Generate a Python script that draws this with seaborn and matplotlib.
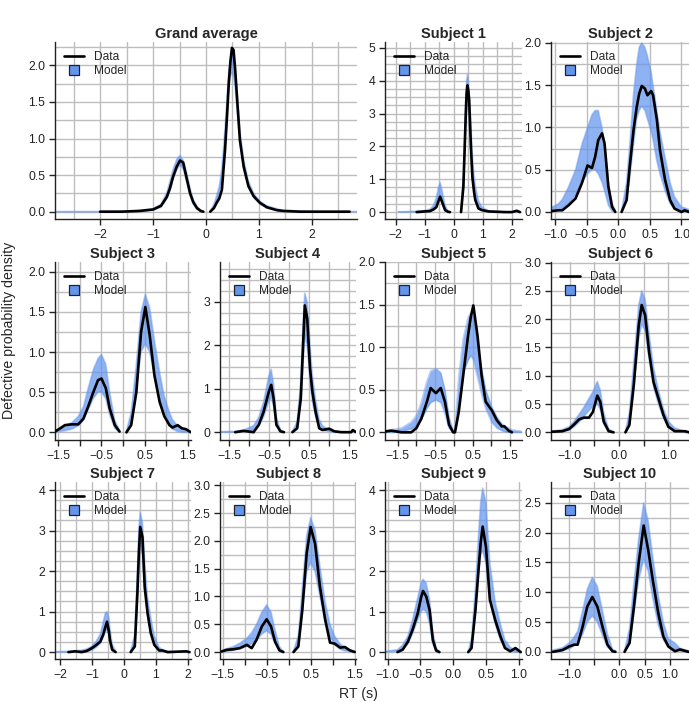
import numpy as np
import matplotlib
matplotlib.use('Agg')
import matplotlib.pyplot as plt
from matplotlib.lines import Line2D
from matplotlib.legend_handler import HandlerLine2D
from matplotlib.ticker import MultipleLocator
import seaborn as sns

# Densities.
# x = RT sample points (s), data = observed density (None = not drawn),
# lo / hi = envelope of the model posterior-predictive traces.

ga_x = [-2.85, -2.0, -1.6, -1.25, -1.0, -0.85, -0.74, -0.68, -0.62, -0.55, -0.49, -0.43, -0.36, -0.3, -0.24,
        -0.17, -0.1, -0.05, 0.0, 0.08, 0.15, 0.2, 0.25, 0.3, 0.36, 0.4, 0.43, 0.46, 0.49, 0.52, 0.55, 0.58,
        0.64, 0.71, 0.8, 0.9, 1.02, 1.15, 1.34, 1.46, 1.78, 2.2, 2.71, 2.85]
ga_data = [None, 0.0, 0.0, 0.01, 0.03, 0.08, 0.2, 0.32, 0.48, 0.62, 0.70, 0.67, 0.44, 0.25, 0.13,
           0.05, 0.01, 0.0, None, 0.0, 0.05, 0.12, 0.18, 0.30, 0.85, 1.35, 1.76, 2.05, 2.24, 2.21, 1.95, 1.62,
           0.98, 0.62, 0.35, 0.21, 0.12, 0.06, 0.02, 0.01, 0.0, 0.0, 0.0, None]
ga_lo = [0.0, 0.0, 0.0, 0.01, 0.02, 0.06, 0.18, 0.30, 0.45, 0.58, 0.64, 0.58, 0.40, 0.22, 0.10,
         0.03, 0.005, 0.0, None, 0.0, 0.05, 0.14, 0.25, 0.45, 0.95, 1.4, 1.7, 1.85, 1.9, 1.85, 1.7, 1.45,
         0.95, 0.6, 0.34, 0.2, 0.1, 0.05, 0.02, 0.01, 0.0, 0.0, 0.0, 0.0]
ga_hi = [0.0, 0.0, 0.005, 0.02, 0.04, 0.10, 0.26, 0.42, 0.58, 0.72, 0.77, 0.70, 0.52, 0.32, 0.16,
         0.07, 0.02, 0.005, None, 0.01, 0.10, 0.22, 0.35, 0.6, 1.15, 1.6, 1.9, 2.05, 2.15, 2.1, 1.95, 1.7,
         1.1, 0.72, 0.42, 0.25, 0.14, 0.08, 0.04, 0.02, 0.01, 0.0, 0.0, 0.0]

s1_x = [-2.37, -1.9, -1.5, -1.28, -1.0, -0.82, -0.7, -0.6, -0.53, -0.47, -0.4, -0.3, -0.2, -0.13, 0.05,
        0.25, 0.33, 0.37, 0.41, 0.44, 0.47, 0.5, 0.53, 0.59, 0.64, 0.7, 0.74, 0.85, 0.97, 1.2, 1.77, 2.0,
        2.17, 2.28, 2.35]
s1_data = [None, None, None, 0.0, 0.02, 0.03, 0.08, 0.15, 0.33, 0.47, 0.3, 0.06, 0.01, 0.0, None,
           0.0, 0.77, 1.8, 2.9, 3.6, 3.86, 3.7, 3.4, 2.0, 1.07, 0.6, 0.37, 0.11, 0.06, 0.02, 0.0, 0.0,
           0.04, 0.0, None]
s1_lo = [None, 0.0, 0.0, 0.01, 0.02, 0.04, 0.1, 0.25, 0.45, 0.5, 0.35, 0.08, 0.01, 0.0, None,
         0.0, 0.7, 1.6, 2.6, 3.2, 3.4, 3.2, 2.8, 1.8, 1.1, 0.6, 0.4, 0.12, 0.05, 0.01, 0.0, 0.0,
         0.0, 0.0, None]
s1_hi = [None, 0.01, 0.02, 0.03, 0.05, 0.09, 0.2, 0.45, 0.75, 0.9, 0.65, 0.2, 0.04, 0.01, None,
         0.05, 1.1, 2.2, 3.4, 4.0, 4.2, 4.0, 3.6, 2.6, 1.7, 1.1, 0.8, 0.35, 0.15, 0.04, 0.01, 0.005,
         0.0, 0.0, None]

s2_x = [-1.07, -0.95, -0.89, -0.79, -0.68, -0.58, -0.49, -0.42, -0.37, -0.32, -0.26, -0.22, -0.16, -0.1,
        -0.05, 0.0, 0.05, 0.13, 0.18, 0.24, 0.29, 0.33, 0.37, 0.42, 0.46, 0.52, 0.55, 0.61, 0.66, 0.74,
        0.82, 0.89, 1.0, 1.05, 1.12]
s2_data = [0.01, 0.02, 0.02, 0.08, 0.16, 0.34, 0.55, 0.52, 0.65, 0.85, 0.93, 0.81, 0.30, 0.06,
           0.0, None, 0.0, 0.14, 0.54, 0.97, 1.24, 1.40, 1.49, 1.46, 1.38, 1.43, 1.38, 1.09, 0.73, 0.38,
           0.14, 0.04, 0.0, 0.02, 0.0]
s2_lo = [0.0, 0.02, 0.04, 0.1, 0.2, 0.35, 0.45, 0.5, 0.5, 0.45, 0.35, 0.25, 0.08, 0.01,
         0.0, None, 0.0, 0.15, 0.4, 0.8, 1.1, 1.2, 1.25, 1.2, 1.1, 0.95, 0.85, 0.6, 0.45, 0.25,
         0.1, 0.04, 0.01, 0.0, 0.0]
s2_hi = [0.05, 0.1, 0.15, 0.3, 0.5, 0.8, 1.0, 1.15, 1.2, 1.2, 1.0, 0.8, 0.35, 0.1,
         0.02, None, 0.02, 0.35, 0.8, 1.4, 1.75, 1.95, 2.0, 1.95, 1.85, 1.65, 1.5, 1.2, 0.95, 0.65,
         0.35, 0.18, 0.06, 0.05, 0.03]

s3_x = [-1.58, -1.46, -1.35, -1.19, -1.04, -0.92, -0.81, -0.69, -0.58, -0.5, -0.4, -0.31, -0.19, -0.08, 0.0,
        0.08, 0.19, 0.31, 0.42, 0.52, 0.62, 0.73, 0.85, 0.96, 1.08, 1.15, 1.27, 1.37, 1.46, 1.58]
s3_data = [0.01, 0.05, 0.09, 0.10, 0.10, 0.17, 0.32, 0.50, 0.65, 0.67, 0.55, 0.30, 0.09, 0.01, None,
           0.0, 0.09, 0.50, 1.25, 1.56, 1.21, 0.71, 0.38, 0.20, 0.09, 0.06, 0.09, 0.05, 0.04, 0.0]
s3_lo = [0.0, 0.01, 0.02, 0.04, 0.08, 0.15, 0.28, 0.42, 0.5, 0.5, 0.42, 0.22, 0.05, 0.0, None,
         0.0, 0.1, 0.55, 1.0, 1.1, 1.0, 0.7, 0.4, 0.2, 0.08, 0.04, 0.01, 0.0, 0.0, 0.0]
s3_hi = [0.02, 0.04, 0.08, 0.12, 0.2, 0.32, 0.55, 0.78, 0.92, 0.97, 0.85, 0.5, 0.15, 0.02, None,
         0.02, 0.25, 0.85, 1.5, 1.72, 1.55, 1.15, 0.75, 0.45, 0.25, 0.16, 0.08, 0.05, 0.03, 0.01]

s4_x = [-1.73, -1.35, -1.14, -0.89, -0.76, -0.64, -0.51, -0.45, -0.39, -0.32, -0.22, -0.13, 0.0,
        0.08, 0.2, 0.29, 0.34, 0.39, 0.45, 0.52, 0.58, 0.66, 0.75, 0.83, 1.0, 1.13, 1.3, 1.55, 1.59, 1.67]
s4_data = [None, 0.0, 0.03, 0.0, 0.17, 0.47, 0.93, 1.09, 0.78, 0.17, 0.02, 0.0, None,
           0.0, 0.09, 0.78, 1.85, 2.92, 2.62, 1.47, 0.93, 0.47, 0.09, 0.05, 0.08, 0.02, 0.0, 0.0, 0.05, 0.0]
s4_lo = [0.0, 0.0, 0.01, 0.05, 0.15, 0.35, 0.7, 0.8, 0.6, 0.15, 0.01, 0.0, None,
         0.0, 0.1, 0.7, 1.5, 2.2, 2.0, 1.2, 0.7, 0.35, 0.12, 0.05, 0.01, 0.0, 0.0, 0.0, 0.0, 0.0]
s4_hi = [0.01, 0.02, 0.05, 0.15, 0.35, 0.7, 1.3, 1.45, 1.1, 0.35, 0.05, 0.01, None,
         0.02, 0.25, 1.2, 2.4, 3.2, 3.0, 2.0, 1.3, 0.75, 0.3, 0.15, 0.05, 0.02, 0.01, 0.0, 0.0, 0.0]

s5_x = [-1.84, -1.67, -1.4, -1.14, -1.0, -0.87, -0.72, -0.62, -0.48, -0.35, -0.24, -0.13, -0.02,
        0.03, 0.13, 0.25, 0.38, 0.45, 0.52, 0.63, 0.74, 0.85, 1.01, 1.15, 1.28, 1.35, 1.46, 1.55, 1.82]
s5_data = [0.01, 0.02, 0.0, 0.0, 0.05, 0.16, 0.36, 0.52, 0.46, 0.52, 0.36, 0.09, 0.0,
           0.0, 0.24, 0.67, 1.14, 1.35, 1.49, 1.14, 0.67, 0.36, 0.26, 0.14, 0.07, 0.07, 0.02, 0.0, None]
s5_lo = [0.0, 0.0, 0.01, 0.04, 0.08, 0.15, 0.28, 0.35, 0.38, 0.35, 0.22, 0.05, 0.0,
         0.0, 0.35, 0.7, 0.85, 0.9, 0.85, 0.65, 0.45, 0.28, 0.12, 0.05, 0.02, 0.01, 0.0, 0.0, 0.0]
s5_hi = [0.02, 0.03, 0.05, 0.12, 0.2, 0.35, 0.6, 0.72, 0.75, 0.7, 0.5, 0.18, 0.02,
         0.02, 0.65, 1.1, 1.35, 1.4, 1.35, 1.05, 0.75, 0.5, 0.3, 0.18, 0.1, 0.08, 0.05, 0.03, 0.01]

s6_x = [-1.38, -1.15, -1.01, -0.91, -0.81, -0.71, -0.61, -0.53, -0.44, -0.38, -0.31, -0.21, -0.11, 0.0,
        0.13, 0.21, 0.3, 0.4, 0.46, 0.53, 0.61, 0.7, 0.8, 0.9, 1.0, 1.13, 1.34, 1.42]
s6_data = [0.01, 0.02, 0.06, 0.14, 0.23, 0.26, 0.26, 0.36, 0.65, 0.54, 0.19, 0.02, 0.0, None,
           0.0, 0.13, 0.84, 1.89, 2.25, 2.07, 1.42, 0.89, 0.6, 0.31, 0.1, 0.02, 0.02, 0.0]
s6_lo = [0.0, 0.01, 0.04, 0.1, 0.18, 0.28, 0.38, 0.45, 0.5, 0.4, 0.15, 0.01, 0.0, None,
         0.0, 0.15, 0.8, 1.65, 1.9, 1.8, 1.3, 0.8, 0.5, 0.25, 0.1, 0.03, 0.0, 0.0]
s6_hi = [0.02, 0.05, 0.1, 0.2, 0.32, 0.45, 0.6, 0.72, 0.9, 0.75, 0.35, 0.06, 0.01, None,
         0.02, 0.35, 1.25, 2.25, 2.5, 2.35, 1.75, 1.15, 0.75, 0.42, 0.2, 0.08, 0.02, 0.01]

s7_x = [-2.16, -1.74, -1.53, -1.32, -1.16, -1.0, -0.86, -0.74, -0.65, -0.59, -0.53, -0.47, -0.44, -0.37,
        -0.26, 0.0, 0.21, 0.34, 0.42, 0.47, 0.51, 0.58, 0.65, 0.74, 0.84, 0.95, 1.1, 1.21, 1.37, 1.95,
        2.05, 2.1]
s7_data = [None, 0.0, 0.02, 0.0, 0.03, 0.1, 0.18, 0.26, 0.43, 0.6, 0.75, 0.5, 0.3, 0.06,
           0.0, None, 0.0, 0.14, 1.45, 2.5, 3.09, 2.84, 1.61, 0.96, 0.47, 0.18, 0.04, 0.04, 0.0, 0.02,
           0.0, None]
s7_lo = [0.0, 0.0, 0.0, 0.01, 0.02, 0.05, 0.12, 0.22, 0.38, 0.5, 0.55, 0.45, 0.3, 0.05,
         0.0, None, 0.0, 0.2, 1.3, 2.2, 2.6, 2.4, 1.5, 0.9, 0.5, 0.2, 0.05, 0.02, 0.0, 0.0,
         0.0, 0.0]
s7_hi = [0.01, 0.02, 0.03, 0.05, 0.08, 0.15, 0.28, 0.45, 0.75, 0.95, 1.0, 0.85, 0.6, 0.2,
         0.02, None, 0.02, 0.45, 2.0, 3.1, 3.45, 3.2, 2.2, 1.35, 0.85, 0.4, 0.12, 0.06, 0.02, 0.0,
         0.0, 0.0]

s8_x = [-1.56, -1.52, -1.41, -1.26, -1.11, -0.95, -0.84, -0.73, -0.61, -0.5, -0.4, -0.31, -0.21, -0.12, 0.0,
        0.11, 0.22, 0.31, 0.41, 0.5, 0.6, 0.71, 0.83, 0.94, 1.05, 1.17, 1.28, 1.39, 1.5, 1.53]
s8_data = [None, 0.01, 0.04, 0.05, 0.07, 0.13, 0.07, 0.22, 0.46, 0.59, 0.46, 0.19, 0.03, 0.0, None,
           0.0, 0.1, 0.76, 1.78, 2.25, 1.95, 1.18, 0.58, 0.17, 0.15, 0.08, 0.09, 0.03, 0.0, None]
s8_lo = [0.0, 0.0, 0.01, 0.03, 0.06, 0.1, 0.15, 0.22, 0.32, 0.38, 0.32, 0.15, 0.02, 0.0, None,
         0.0, 0.12, 0.7, 1.45, 1.6, 1.45, 1.0, 0.55, 0.28, 0.12, 0.05, 0.02, 0.01, 0.0, 0.0]
s8_hi = [0.02, 0.03, 0.06, 0.1, 0.16, 0.25, 0.35, 0.5, 0.72, 0.85, 0.72, 0.4, 0.1, 0.01, None,
         0.02, 0.3, 1.15, 2.1, 2.42, 2.2, 1.55, 0.9, 0.5, 0.28, 0.15, 0.08, 0.04, 0.02, 0.01]

s9_x = [-1.04, -0.85, -0.77, -0.69, -0.62, -0.54, -0.49, -0.46, -0.41, -0.36, -0.31, -0.26, -0.21, 0.0,
        0.23, 0.28, 0.34, 0.39, 0.42, 0.45, 0.5, 0.56, 0.64, 0.72, 0.79, 0.87, 0.95, 1.03, 1.05]
s9_data = [None, 0.0, 0.06, 0.26, 0.55, 0.96, 1.35, 1.51, 1.37, 1.04, 0.3, 0.04, 0.0, None,
           0.0, 0.1, 1.04, 2.1, 2.7, 3.1, 2.6, 1.29, 0.8, 0.39, 0.1, 0.02, 0.1, 0.0, None]
s9_lo = [0.0, 0.02, 0.08, 0.2, 0.45, 0.8, 1.0, 1.05, 1.0, 0.7, 0.2, 0.02, 0.0, None,
         0.0, 0.12, 1.0, 2.0, 2.4, 2.5, 2.2, 1.3, 0.7, 0.3, 0.1, 0.03, 0.0, 0.0, 0.0]
s9_hi = [0.02, 0.06, 0.18, 0.4, 0.8, 1.35, 1.7, 1.8, 1.7, 1.3, 0.5, 0.1, 0.02, None,
         0.02, 0.35, 1.6, 3.0, 3.7, 4.05, 3.7, 2.2, 1.25, 0.7, 0.3, 0.12, 0.05, 0.02, 0.0]

s10_x = [-1.36, -1.32, -1.13, -1.0, -0.9, -0.83, -0.73, -0.64, -0.54, -0.44, -0.34, -0.24, -0.14, -0.08, 0.0,
         0.1, 0.2, 0.28, 0.38, 0.48, 0.57, 0.66, 0.77, 0.87, 0.97, 1.1, 1.2, 1.37, 1.38]
s10_data = [None, 0.0, 0.03, 0.09, 0.12, 0.12, 0.43, 0.76, 0.92, 0.76, 0.43, 0.12, 0.01, 0.0, None,
            0.0, 0.15, 0.71, 1.49, 2.12, 1.71, 1.21, 0.65, 0.26, 0.09, 0.01, 0.04, 0.0, None]
s10_lo = [0.0, 0.0, 0.02, 0.05, 0.1, 0.15, 0.3, 0.5, 0.6, 0.5, 0.28, 0.08, 0.01, 0.0, None,
          0.0, 0.15, 0.6, 1.2, 1.55, 1.35, 0.9, 0.45, 0.2, 0.08, 0.02, 0.01, 0.0, 0.0]
s10_hi = [0.02, 0.03, 0.07, 0.15, 0.25, 0.35, 0.7, 1.05, 1.25, 1.1, 0.7, 0.3, 0.05, 0.01, None,
          0.02, 0.4, 1.1, 1.9, 2.5, 2.2, 1.6, 0.95, 0.5, 0.22, 0.15, 0.06, 0.02, 0.01]

M = '\u2212'
ticks_int = [-2, -1, 0, 1, 2]
labels_int = [M + '2', M + '1', '0', '1', '2']
ticks_half = [-1.0, -0.5, 0.0, 0.5, 1.0]
labels_half = [M + '1.0', M + '0.5', '0.0', '0.5', '1.0']
ticks_15 = [-1.5, -1.0, -0.5, 0.0, 0.5, 1.0, 1.5]
labels_15 = [M + '1.5', '', M + '0.5', '', '0.5', '', '1.5']

# panel layout in pixels: (left, top, right, bottom)
panels = [
    ('Grand average', ga_x, ga_data, ga_lo, ga_hi, (55, 42, 357, 219), (-2.85, 2.85), (-0.1, 2.32),
     ticks_int, labels_int, 0.5),
    ('Subject 1', s1_x, s1_data, s1_lo, s1_hi, (385, 42, 522, 219), (-2.37, 2.35), (-0.21, 5.18),
     ticks_int, labels_int, 1),
    ('Subject 2', s2_x, s2_data, s2_lo, s2_hi, (551, 42, 689, 219), (-1.07, 1.12), (-0.083, 2.01),
     ticks_half, labels_half, 0.5),
    ('Subject 3', s3_x, s3_data, s3_lo, s3_hi, (55, 262, 191, 440), (-1.58, 1.58), (-0.095, 2.12),
     ticks_15, labels_15, 0.5),
    ('Subject 4', s4_x, s4_data, s4_lo, s4_hi, (220, 262, 356, 440), (-1.73, 1.67), (-0.18, 3.92),
     ticks_15, labels_15, 1),
    ('Subject 5', s5_x, s5_data, s5_lo, s5_hi, (385, 262, 522, 440), (-1.84, 1.82), (-0.09, 2.0),
     ticks_15, labels_15, 0.5),
    ('Subject 6', s6_x, s6_data, s6_lo, s6_hi, (551, 262, 689, 440), (-1.38, 1.42), (-0.135, 3.01),
     ticks_half, [M + '1.0', '', '0.0', '', '1.0'], 0.5),
    ('Subject 7', s7_x, s7_data, s7_lo, s7_hi, (55, 482, 191, 659), (-2.16, 2.1), (-0.17, 4.2),
     ticks_int, labels_int, 1),
    ('Subject 8', s8_x, s8_data, s8_lo, s8_hi, (220, 482, 356, 659), (-1.56, 1.53), (-0.125, 3.06),
     ticks_15, labels_15, 0.5),
    ('Subject 9', s9_x, s9_data, s9_lo, s9_hi, (385, 482, 522, 659), (-1.04, 1.05), (-0.17, 4.2),
     ticks_half, labels_half, 1),
    ('Subject 10', s10_x, s10_data, s10_lo, s10_hi, (551, 482, 689, 659), (-1.36, 1.38), (-0.12, 2.85),
     ticks_half, [M + '1.0', '', '0.0', '0.5', '1.0'], 0.5),
]

sns.set_style('ticks')
plt.rcParams['font.family'] = ['Liberation Sans', 'DejaVu Sans']
plt.rcParams['axes.edgecolor'] = '#222222'
plt.rcParams['xtick.color'] = '#222222'
plt.rcParams['ytick.color'] = '#222222'

W, H = 689, 702
fig = plt.figure(figsize=(W / 100, H / 100), dpi=100)


class LeftMarker(HandlerLine2D):
    # put the square at the start of the handle, like the original legend
    def get_xdata(self, legend, xdescent, ydescent, width, height, fontsize):
        xdata, _ = super().get_xdata(legend, xdescent, ydescent, width, height, fontsize)
        return xdata, [-xdescent + 0.22 * width]


data_handle = Line2D([], [], color='black', lw=1.9)
model_handle = Line2D([], [], ls='none', marker='s', markersize=6.5, markerfacecolor='cornflowerblue',
                      markeredgecolor='#222222', markeredgewidth=0.9)

for title, x, data, lo, hi, box, xlim, ylim, xticks, xlabels, ystep in panels:
    left, top, right, bottom = box
    ax = fig.add_axes([left / W, 1 - bottom / H, (right - left) / W, (bottom - top) / H])
    x = np.array(x, dtype=float)
    data = np.array(data, dtype=float)
    lo = np.array(lo, dtype=float)
    hi = np.array(hi, dtype=float)

    ax.fill_between(x, lo, hi, color='cornflowerblue', alpha=0.72, lw=0, zorder=2)
    ax.plot(x, lo, color='cornflowerblue', alpha=0.45, lw=1.2, zorder=2)
    ax.plot(x, hi, color='cornflowerblue', alpha=0.45, lw=1.2, zorder=2)
    ax.plot(x, data, color='black', lw=1.9, zorder=3)

    ax.set_xlim(xlim)
    ax.set_ylim(ylim)
    ax.set_xticks(xticks)
    ax.set_xticklabels(xlabels)
    ax.yaxis.set_major_locator(MultipleLocator(ystep))
    ax.xaxis.set_minor_locator(MultipleLocator(0.5))
    ax.yaxis.set_minor_locator(MultipleLocator(0.25))
    ax.grid(which='both', color='#bdbdbd', lw=1.0)
    ax.set_axisbelow(True)
    ax.tick_params(which='major', direction='out', length=4, width=1, labelsize=8.8, pad=3)
    ax.tick_params(which='minor', length=0)
    sns.despine(ax=ax)
    for side in ('left', 'bottom'):
        ax.spines[side].set_linewidth(1.0)
    ax.set_title(title, fontsize=10.5, fontweight='bold', pad=3)

    ax.legend([data_handle, model_handle], ['Data', 'Model'], loc='upper left', frameon=False,
              fontsize=8.6, handlelength=1.7, handletextpad=0.8, labelspacing=0.15,
              borderaxespad=0.35, handler_map={model_handle: LeftMarker(numpoints=1)})

fig.text(358 / W, 1 - 694 / H, 'RT (s)', ha='center', va='center', fontsize=10.2)
fig.text(9 / W, 1 - 330 / H, 'Defective probability density', ha='center', va='center',
         rotation=90, fontsize=10.2)

fig.savefig('out.png', dpi=100)
